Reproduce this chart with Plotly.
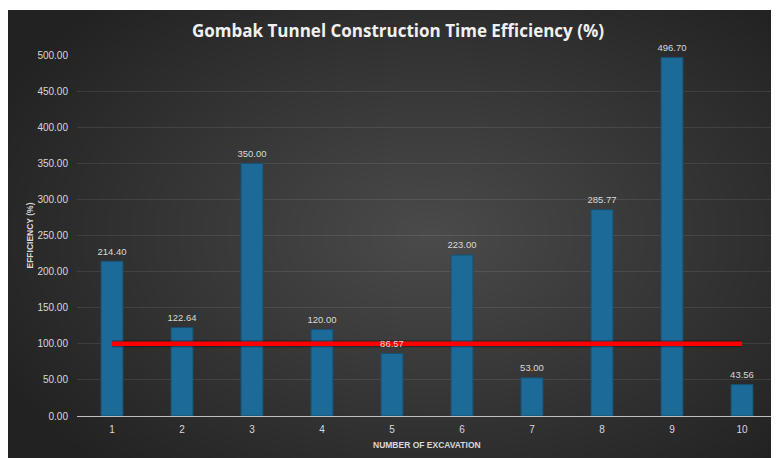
import plotly.graph_objects as go

categories = ["1", "2", "3", "4", "5", "6", "7", "8", "9", "10"]
efficiency = [214.40, 122.64, 350.00, 120.00, 86.57, 223.00, 53.00, 285.77, 496.70, 43.56]
target = [100, 100, 100, 100, 100, 100, 100, 100, 100, 100]
y_ticks = [0, 50, 100, 150, 200, 250, 300, 350, 400, 450, 500]

# The page body has an 8px margin, so figure pixels = page pixels - 8
OFF = 8
W, H = 771, 450
ML, MR, MT = 77 - OFF, 2, 55 - OFF
PB = 416 - OFF
MB = H - PB
PW = W - ML - MR
PH = PB - MT


def px_x(p):
    return (p - OFF - ML) / PW


def px_y(q):
    return (PB - (q - OFF)) / PH


fig = go.Figure()

fig.add_trace(go.Bar(
    x=categories, y=efficiency,
    marker=dict(color="#1b6a97", line=dict(color="#184f70", width=1)),
    hoverinfo="x+y", showlegend=False,
))
fig.add_trace(go.Scatter(
    x=categories, y=target, mode="lines",
    line=dict(color="rgba(0,0,0,0.3)", width=7),
    hoverinfo="skip", showlegend=False,
))
fig.add_trace(go.Scatter(
    x=categories, y=target, mode="lines",
    line=dict(color="#ff0000", width=4.5),
    showlegend=False,
))
fig.add_trace(go.Scatter(
    x=categories, y=efficiency, mode="markers+text",
    marker=dict(size=5, color="rgba(0,0,0,0)"),
    text=[f"{v:.2f}" for v in efficiency],
    textposition="top center",
    textfont=dict(family="Liberation Sans", size=9.5, color="#d9d9d9"),
    hoverinfo="skip", showlegend=False, cliponaxis=False,
))

shapes = []
shapes.append(dict(type="rect", xref="paper", yref="paper", layer="below",
                   x0=px_x(0), x1=px_x(800), y0=px_y(480), y1=px_y(10),
                   fillcolor="#222222", line=dict(width=0)))
cx, cy = 430, 235
N = 40
for k in range(N, 0, -1):
    f = k / N
    rx, ry = 480 * f, 310 * f
    shapes.append(dict(type="circle", xref="paper", yref="paper", layer="below",
                       x0=px_x(cx - rx), x1=px_x(cx + rx),
                       y0=px_y(cy + ry), y1=px_y(cy - ry),
                       fillcolor="rgba(255,255,255,0.0085)", line=dict(width=0)))
# white strips outside the chart frame
shapes.append(dict(type="rect", xref="paper", yref="paper", layer="below",
                   x0=px_x(-20), x1=px_x(800), y0=px_y(10), y1=px_y(-20),
                   fillcolor="white", line=dict(width=0)))
shapes.append(dict(type="rect", xref="paper", yref="paper", layer="below",
                   x0=px_x(-20), x1=px_x(8), y0=px_y(480), y1=px_y(-20),
                   fillcolor="white", line=dict(width=0)))

fig.update_layout(
    width=W, height=H,
    margin=dict(l=ML, r=MR, t=MT, b=MB),
    paper_bgcolor="white",
    plot_bgcolor="rgba(0,0,0,0)",
    bargap=0.686,
    shapes=shapes,
    title=dict(text="<b>Gombak Tunnel Construction Time Efficiency (%)</b>",
               x=(398 - OFF) / W, xanchor="center",
               y=1 - (31 - OFF) / H, yanchor="middle", yref="container",
               font=dict(family="Open Sans", size=17, color="#f0f0f0")),
    xaxis=dict(type="category", range=[-0.5, 9.5], showgrid=False, showline=True,
               linecolor="#bfbfbf", linewidth=1.2,
               ticks="", ticklabelstandoff=4,
               tickfont=dict(family="Liberation Sans", size=10, color="#d9d9d9")),
    yaxis=dict(range=[0, 500], tickvals=y_ticks,
               ticktext=[f"{v:.2f}" for v in y_ticks],
               showgrid=True, gridcolor="rgba(255,255,255,0.09)", gridwidth=1,
               zeroline=False, showline=False, ticks="", ticklabelstandoff=8,
               tickfont=dict(family="Liberation Sans", size=10, color="#d9d9d9")),
    annotations=[
        dict(text="<b>EFFICIENCY (%)</b>", xref="paper", yref="paper",
             x=px_x(29), y=0.5, textangle=-90, showarrow=False,
             xanchor="center", yanchor="middle",
             font=dict(family="Liberation Sans", size=8.5, color="#d9d9d9")),
        dict(text="<b>NUMBER OF EXCAVATION</b>", xref="paper", yref="paper",
             x=px_x(427), y=px_y(445), showarrow=False,
             xanchor="center", yanchor="middle",
             font=dict(family="Liberation Sans", size=8.5, color="#d9d9d9")),
    ],
)

fig.write_html("out.html")
